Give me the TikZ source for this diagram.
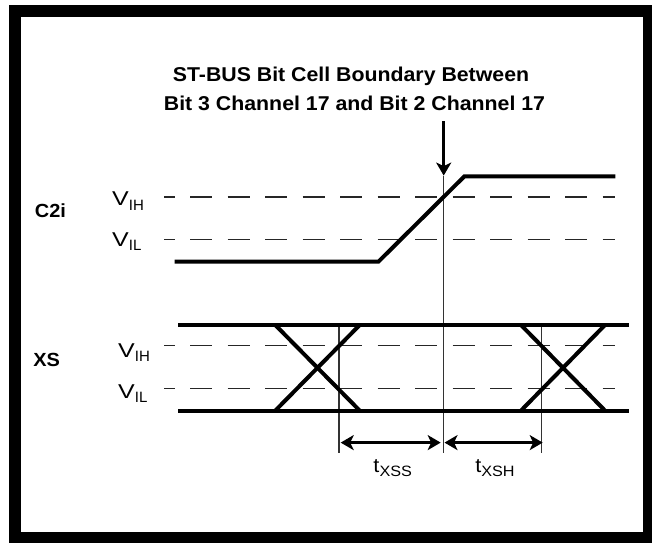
\documentclass[tikz,border=0pt]{standalone}
\usepackage{fontspec}
\setmainfont{Liberation Sans}
\usetikzlibrary{arrows.meta}
\newcommand{\lowsub}[1]{\raisebox{-4.5pt}{\fontsize{15}{15}\selectfont #1}}
\newcommand{\wideV}{\scalebox{1.25}[1]{V}}

\begin{document}
\begin{tikzpicture}[line cap=butt,line join=miter,x=1pt,y=-1pt,
  >={Stealth[length=13pt,width=15pt,inset=3.5pt]},
  level/.style={line width=1.4pt,black!85,dash pattern=on 22pt off 15.5pt,dash phase=11.3pt},
  wave/.style={line width=4pt},
  guide/.style={line width=1.3pt,black!80},
  siglabel/.style={font=\fontsize{19}{19}\selectfont\bfseries,xscale=1.05},
  vlabel/.style={anchor=base west,font=\fontsize{20}{20}\selectfont,inner sep=0pt},
  tlabel/.style={anchor=base,font=\fontsize{20}{20}\selectfont,xscale=1.08,inner sep=0pt}]
\useasboundingbox (0,0) rectangle (652,542);
\draw [line width=12pt] (15,11) rectangle (649,538);
% title
\node (title1) at (351,81.7) [anchor=base,font=\fontsize{20}{20}\selectfont\bfseries,xscale=1.065] {ST-BUS Bit Cell Boundary Between};
\node (title2) at (354.5,110) [anchor=base,font=\fontsize{20}{20}\selectfont\bfseries,xscale=1.065] {Bit 3 Channel 17 and Bit 2 Channel 17};
% signal names
\node (c2i) at (50.5,211) [siglabel] {C2i};
\node (xs) at (46.7,360) [siglabel] {XS};
\node (c2ivih) at (112,205.5) [vlabel] {\wideV\lowsub{IH}};
\node (c2ivil) at (112,246) [vlabel] {\wideV\lowsub{IL}};
\node (xsvih) at (118,357) [vlabel] {\wideV\lowsub{IH}};
\node (xsvil) at (118,398) [vlabel] {\wideV\lowsub{IL}};
% threshold levels
\draw [level] (164,197)-- (615,197);
\draw [level] (164,239.2)-- (615,239.2);
\draw [level] (164,345.7)-- (615,345.7);
\draw [level] (164,388.2)-- (615,388.2);
% timing guides
\coordinate (setup) at (339,325);
\coordinate (edge) at (443.7,176);
\coordinate (hold) at (541.8,325);
\draw [guide] (edge)-- (443.7,453.3);
\draw [guide] (setup)-- (339,453.3);
\draw [guide] (hold)-- (541.8,453.3);
% C2i
\draw [wave] (174.6,261.7)-- (378.4,261.7)-- (464.4,176.3)-- (615.4,176.3);
% XS
\draw [wave] (178,325)-- (628.7,325);
\draw [wave] (178,410.6)-- (628.7,410.6);
\draw [wave] (275.3,325)-- (359.7,410.6);
\draw [wave] (275.3,410.6)-- (359.7,325);
\draw [wave] (521,325)-- (605,410.6);
\draw [wave] (521,410.6)-- (605,325);
% boundary arrow
\coordinate (arrowtop) at (443.7,121);
\draw [line width=3pt,->] (arrowtop)-- (443.7,175.6);
% setup and hold
\draw [line width=3pt,<->] (340.7,442.6)-- (440.7,442.6);
\draw [line width=3pt,<->] (444.5,442.6)-- (542.7,442.6);
\node (txss) at (392.7,472) [tlabel] {t\lowsub{XSS}};
\node (txsh) at (495,472) [tlabel] {t\lowsub{XSH}};
\end{tikzpicture}
\end{document}
